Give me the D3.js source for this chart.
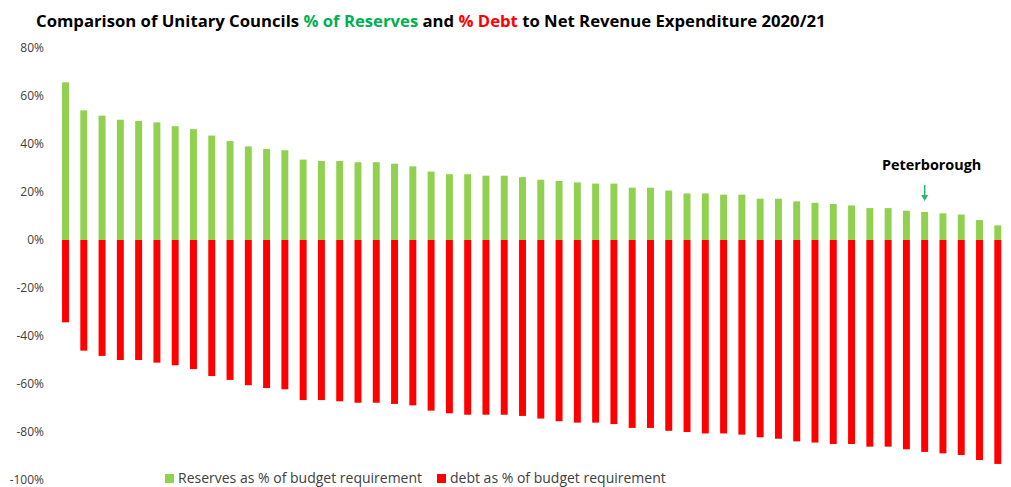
<!DOCTYPE html>
<html>
<head>
<meta charset="utf-8">
<script src="https://cdn.jsdelivr.net/npm/d3@7"></script>
<style>
  body { margin: 0; background: #fff; }
  svg { font-family: "Open Sans", "Liberation Sans", Arial, sans-serif; }
</style>
</head>
<body>
<script>
const width = 1011;
const height = 487;

// reserves and debt as % of budget requirement, one entry per unitary council (sorted)
const reserves = [65.7, 54.0, 51.8, 50.1, 49.6, 49.0, 47.4, 46.2, 43.5, 41.2,
    39.0, 37.9, 37.4, 33.5, 32.9, 32.9, 32.4, 32.4, 31.8, 30.7,
    28.5, 27.4, 27.4, 26.8, 26.8, 26.2, 25.1, 24.6, 24.0, 23.5,
    23.5, 21.8, 21.8, 20.6, 19.4, 19.4, 18.9, 18.9, 17.2, 17.2,
    16.1, 15.5, 15.0, 14.4, 13.3, 13.3, 12.2, 11.7, 11.1, 10.6,
    8.3, 6.1];
const debt = [-34.3, -46.1, -48.3, -50.0, -50.0, -51.1, -52.2, -53.8, -56.7, -58.3,
    -60.5, -61.7, -62.2, -66.7, -66.7, -67.2, -67.8, -67.8, -68.3, -68.9,
    -71.1, -72.2, -72.8, -72.8, -72.8, -73.3, -74.4, -75.5, -76.1, -76.1,
    -76.7, -78.3, -78.3, -79.5, -80.0, -80.6, -80.6, -81.1, -82.2, -82.8,
    -83.9, -84.4, -85.0, -85.0, -86.1, -86.1, -87.2, -88.3, -88.9, -89.6,
    -91.7, -93.3];
const yTicks = [80, 60, 40, 20, 0, -20, -40, -60, -80, -100];
const seriesNames = ["Reserves as % of budget requirement", "debt as % of budget requirement"];
const seriesColors = ["#92d050", "#ff0000"];
const highlight = { name: "Peterborough", index: 47 };

const svg = d3.select("body").append("svg")
    .attr("width", width)
    .attr("height", height);

const x = d3.scaleBand()
    .domain(d3.range(reserves.length))
    .range([50.7, 1012.6])
    .padding(0.62);

const y = d3.scaleLinear()
    .domain([-100, 80])
    .range([480, 48]);

// title
const title = svg.append("text")
    .attr("x", 36)
    .attr("y", 27)
    .attr("font-size", 16.7)
    .attr("font-weight", "bold")
    .attr("fill", "#000");
title.append("tspan").text("Comparison of Unitary Councils ");
title.append("tspan").attr("fill", "#00b050").text("% of Reserves");
title.append("tspan").text(" and ");
title.append("tspan").attr("fill", "#ff0000").text("% Debt");
title.append("tspan").text(" to Net Revenue Expenditure 2020/21");

// y axis
const yAxis = svg.append("g")
    .attr("transform", "translate(44,0)")
    .call(d3.axisLeft(y).tickValues(yTicks).tickSize(0).tickPadding(0).tickFormat(d => d + "%"));
yAxis.select(".domain").remove();
yAxis.selectAll("text")
    .attr("font-size", 12)
    .attr("font-family", "Open Sans, Liberation Sans, Arial, sans-serif")
    .attr("fill", "#404040");

// bars
svg.append("g").selectAll("rect")
    .data(reserves)
    .enter().append("rect")
    .attr("x", (d, i) => x(i))
    .attr("width", x.bandwidth())
    .attr("y", d => y(d))
    .attr("height", d => y(0) - y(d))
    .attr("fill", seriesColors[0]);

svg.append("g").selectAll("rect")
    .data(debt)
    .enter().append("rect")
    .attr("x", (d, i) => x(i))
    .attr("width", x.bandwidth())
    .attr("y", y(0))
    .attr("height", d => y(d) - y(0))
    .attr("fill", seriesColors[1]);

// Peterborough annotation
const hx = x(highlight.index) + x.bandwidth() / 2;
const tipY = y(reserves[highlight.index]) - 11;
svg.append("line")
    .attr("x1", hx).attr("x2", hx)
    .attr("y1", tipY - 16).attr("y2", tipY - 4)
    .attr("stroke", "#2db36a")
    .attr("stroke-width", 1.5);
svg.append("path")
    .attr("d", `M${hx - 3.5},${tipY - 6} L${hx + 3.5},${tipY - 6} L${hx},${tipY} Z`)
    .attr("fill", "#2db36a");
svg.append("text")
    .attr("x", hx + 7)
    .attr("y", tipY - 31)
    .attr("text-anchor", "middle")
    .attr("font-size", 14.4)
    .attr("font-weight", "bold")
    .attr("fill", "#000")
    .text(highlight.name);

// legend
const legendX = [165, 437];
const legend = svg.append("g").selectAll("g")
    .data(seriesNames)
    .enter().append("g")
    .attr("transform", (d, i) => `translate(${legendX[i]},474)`);
legend.append("rect")
    .attr("width", 9)
    .attr("height", 9)
    .attr("fill", (d, i) => seriesColors[i]);
legend.append("text")
    .attr("x", 13)
    .attr("y", 9)
    .attr("font-size", 14)
    .attr("fill", "#404040")
    .text(d => d);
</script>
</body>
</html>
